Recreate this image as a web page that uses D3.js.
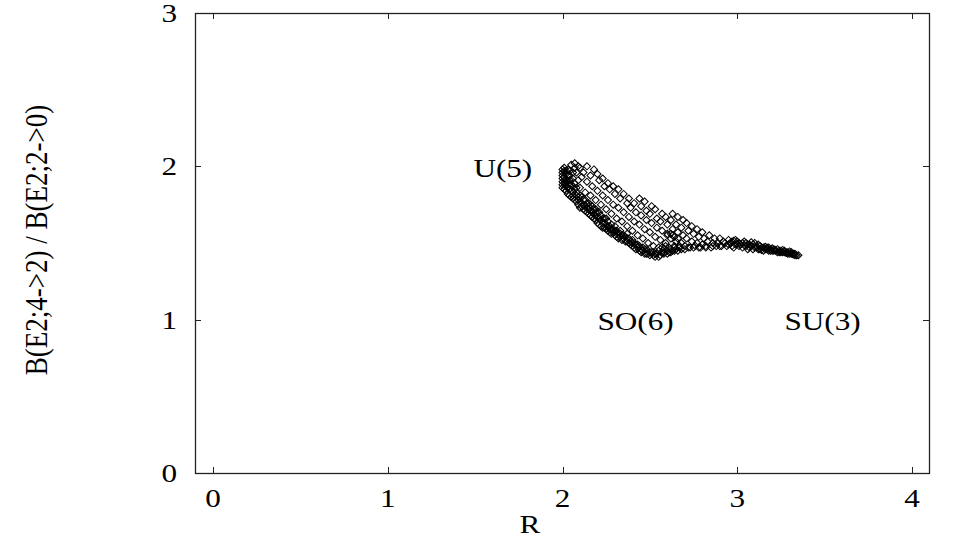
<!DOCTYPE html>
<html>
<head>
<meta charset="utf-8">
<script src="https://cdn.jsdelivr.net/npm/d3@7"></script>
<style>
  body { margin: 0; background: #fff; }
  text { font-family: "Liberation Serif", "Times New Roman", serif; font-size: 26px; fill: #000; }
</style>
</head>
<body>
<div id="chart"></div>
<script>
// axis ticks
let xTicks = [0, 1, 2, 3, 4];
let yTicks = [0, 1, 2, 3];

// points: [R, B(E2;4->2)/B(E2;2->0)]
let cornerPts = [
  [2.00,1.86],[2.00,1.88],[2.00,1.90],[2.00,1.92],[2.00,1.94],[2.00,1.96],[2.01,1.85],[2.01,1.89],
  [2.01,1.93],[2.01,1.97],[2.01,1.99],[2.02,1.84],[2.02,1.87],[2.02,1.91],[2.02,1.95],[2.03,1.82],
  [2.03,1.86],[2.03,1.90],[2.03,1.98],[2.04,1.81],[2.04,1.85],[2.04,1.94],[2.05,1.80],[2.05,1.84],
  [2.05,1.88],[2.05,2.01],[2.06,1.79],[2.06,1.83],[2.06,1.92],[2.07,2.02],[2.08,1.77],[2.08,1.81],
  [2.08,1.96],[2.00,1.98],[2.01,1.91],[2.02,1.89],[2.02,1.97],[2.03,1.94],[2.04,1.88],[2.04,1.91],
  [2.04,1.97],[2.05,1.91],[2.06,1.87],[2.06,1.96],[2.07,1.89],[2.07,1.99],[2.08,1.86],[2.09,1.91],
  [2.09,2.00]
];
let lowerBandPts = [
  [2.09,1.75],[2.09,1.78],[2.10,1.73],[2.10,1.77],[2.11,1.80],[2.12,1.72],[2.12,1.75],[2.13,1.71],
  [2.13,1.78],[2.14,1.70],[2.14,1.73],[2.15,1.69],[2.15,1.76],[2.16,1.68],[2.16,1.71],[2.17,1.67],
  [2.17,1.74],[2.18,1.66],[2.18,1.69],[2.19,1.65],[2.19,1.72],[2.20,1.63],[2.20,1.67],[2.21,1.62],
  [2.21,1.70],[2.22,1.61],[2.22,1.65],[2.23,1.60],[2.24,1.60],[2.24,1.63],[2.25,1.59],[2.25,1.66],
  [2.26,1.58],[2.27,1.57],[2.27,1.61],[2.28,1.56],[2.29,1.59],[2.30,1.55],[2.31,1.54],[2.31,1.58],
  [2.32,1.53],[2.33,1.56],[2.34,1.52],[2.35,1.55],[2.36,1.51],[2.37,1.53],[2.38,1.50],[2.39,1.49],
  [2.40,1.48],[2.40,1.52],[2.41,1.47],[2.42,1.46],[2.43,1.49],[2.44,1.45],[2.45,1.44],[2.46,1.47],
  [2.47,1.43],[2.48,1.43],[2.49,1.45],[2.50,1.42],[2.51,1.44],[2.52,1.42],[2.53,1.41],[2.54,1.43],
  [2.55,1.41],[2.56,1.42],[2.57,1.44]
];
let lowerInnerPts = [
  [2.06,1.81],[2.07,1.85],[2.07,1.78],[2.08,1.83],[2.09,1.80],[2.10,1.81],[2.11,1.76],[2.11,1.74],
  [2.12,1.78],[2.13,1.74],[2.14,1.76],[2.15,1.72],[2.15,1.74],[2.16,1.75],[2.17,1.70],[2.18,1.72],
  [2.19,1.68],[2.19,1.70],[2.20,1.70],[2.21,1.66],[2.22,1.68],[2.23,1.63],[2.23,1.66],[2.24,1.66],
  [2.25,1.62],[2.26,1.61],[2.26,1.64],[2.27,1.59],[2.28,1.62],[2.28,1.59],[2.29,1.57],[2.30,1.58],
  [2.30,1.61],[2.31,1.56],[2.32,1.56],[2.33,1.54],[2.33,1.58],[2.34,1.55],[2.35,1.53],[2.36,1.54],
  [2.37,1.51],[2.37,1.56],[2.38,1.53],[2.39,1.51],[2.40,1.50],[2.41,1.50],[2.42,1.49],[2.43,1.47],
  [2.44,1.48],[2.45,1.46],[2.46,1.45],[2.47,1.46],[2.48,1.46],[2.49,1.43],[2.50,1.44],[2.52,1.44],
  [2.53,1.43]
];
let scatterPts = [
  [2.10,1.86],[2.11,1.93],[2.10,1.99],[2.13,1.83],[2.14,1.90],[2.12,1.96],[2.14,2.00],
  [2.16,1.81],[2.17,1.87],[2.16,1.94],[2.18,1.98],[2.19,1.78],[2.20,1.84],[2.21,1.91],[2.20,1.95],
  [2.22,1.75],[2.23,1.81],[2.24,1.87],[2.23,1.92],[2.25,1.72],[2.26,1.78],[2.27,1.85],[2.26,1.89],
  [2.28,1.69],[2.29,1.75],[2.30,1.82],[2.29,1.87],[2.31,1.66],[2.32,1.73],[2.33,1.79],[2.32,1.85],
  [2.34,1.64],[2.35,1.70],[2.37,1.76],[2.35,1.82],[2.37,1.61],[2.38,1.67],[2.39,1.73],[2.38,1.79],
  [2.40,1.58],[2.41,1.64],[2.42,1.70],[2.41,1.76],[2.43,1.55],[2.44,1.62],[2.45,1.68],[2.45,1.74],
  [2.44,1.79],[2.46,1.53],[2.47,1.59],[2.48,1.65],[2.48,1.71],[2.47,1.77],[2.49,1.50],[2.50,1.57],
  [2.51,1.63],[2.50,1.69],[2.51,1.74],[2.52,1.48],[2.53,1.54],[2.54,1.60],[2.54,1.66],[2.53,1.72],
  [2.55,1.47],[2.56,1.52],[2.57,1.58],[2.56,1.64],[2.57,1.69],[2.58,1.46],[2.59,1.50],[2.60,1.56],
  [2.60,1.62],[2.59,1.67],[2.61,1.47],[2.62,1.53],[2.63,1.59],[2.62,1.65],[2.63,1.69],[2.64,1.48],
  [2.65,1.51],[2.66,1.57],[2.65,1.62],[2.66,1.67],[2.67,1.47],[2.68,1.50],[2.69,1.55],[2.68,1.60],
  [2.69,1.65],[2.70,1.48],[2.71,1.53],[2.72,1.58],[2.71,1.63],[2.73,1.47],[2.74,1.51],[2.75,1.56],
  [2.74,1.61],[2.76,1.48],[2.77,1.50],[2.78,1.54],[2.77,1.59],[2.79,1.47],[2.80,1.49],[2.81,1.53],
  [2.80,1.57],[2.82,1.48],[2.83,1.51],[2.84,1.55],[2.85,1.47],[2.86,1.50],[2.87,1.53],[2.88,1.48],
  [2.89,1.50],[2.90,1.53],[2.91,1.48],[2.92,1.51],[2.94,1.48],[2.93,1.50]
];
let so6Pts = [
  [2.55,1.45],[2.57,1.47],[2.58,1.43],[2.59,1.48],[2.60,1.45],[2.61,1.44],[2.62,1.46],[2.63,1.45],
  [2.64,1.47],[2.65,1.46],[2.67,1.48],[2.60,1.55],[2.62,1.56],[2.63,1.55],[2.64,1.54],[2.66,1.53],
  [2.58,1.44],[2.60,1.43],[2.62,1.44],[2.64,1.45],[2.66,1.45],[2.68,1.46],[2.70,1.46],[2.72,1.47],
  [2.75,1.47],[2.78,1.47],[2.82,1.47],[2.86,1.48],[2.90,1.48]
];
let tailPts = [
  [2.95,1.49],[2.95,1.52],[2.97,1.48],[2.97,1.51],[2.99,1.49],[2.99,1.52],[3.01,1.48],[3.01,1.50],
  [3.03,1.47],[3.03,1.50],[3.05,1.48],[3.05,1.50],[3.07,1.47],[3.07,1.49],[3.09,1.46],[3.09,1.49],
  [3.11,1.47],[3.11,1.48],[3.13,1.46],[3.13,1.48],[3.15,1.45],[3.15,1.47],[3.17,1.46],[3.17,1.47],
  [3.19,1.45],[3.19,1.46],[3.21,1.45],[3.21,1.46],[3.23,1.44],[3.23,1.46],[3.25,1.44],[3.25,1.45],
  [3.27,1.44],[3.27,1.45],[3.29,1.43],[3.29,1.44],[3.31,1.43],[3.31,1.44],[3.33,1.42],[3.33,1.43],
  [3.35,1.42],[2.96,1.50],[2.98,1.47],[3.00,1.51],[3.02,1.49],[3.04,1.51],[3.06,1.49],[3.08,1.48],
  [3.10,1.47],[3.10,1.50],[3.12,1.46],[3.14,1.47],[3.16,1.46],[3.18,1.47],[3.20,1.45],[3.22,1.45],
  [3.24,1.45],[3.26,1.44],[3.28,1.44],[3.30,1.43],[3.32,1.43],[3.34,1.42],[3.06,1.46],[3.12,1.49],
  [3.18,1.45],[3.24,1.44],[3.14,1.455],[3.16,1.475],[3.20,1.465],[3.22,1.455],[3.26,1.455],
  [3.28,1.435],[3.30,1.445],[3.32,1.425],[3.08,1.505],[3.04,1.485],[3.00,1.495],[2.98,1.515]
];

// text labels placed in data coordinates
let labels = [
  {text: "U(5)", r: 1.49, b: 1.93},
  {text: "SO(6)", r: 2.20, b: 0.93},
  {text: "SU(3)", r: 3.27, b: 0.93}
];

let W = 977, H = 537;
let frame = {left: 195, right: 929, top: 13, bottom: 473};
let sx = 1.2; // horizontal stretch of the original lettering

let svg = d3.select("#chart")
  .append("svg")
    .attr("width", W)
    .attr("height", H);

let x = d3.scaleLinear().domain([0, 4]).range([213, 912]);
let y = d3.scaleLinear().domain([0, 3]).range([frame.bottom, frame.top]);

// ticks on all four sides, pointing inward
let tickLen = 6;
let ticks = svg.append("g").attr("stroke", "#222").attr("stroke-width", 1);
xTicks.forEach(function(t) {
  let px = Math.round(x(t)) + 0.5;
  ticks.append("line").attr("x1", px).attr("x2", px).attr("y1", frame.bottom).attr("y2", frame.bottom - tickLen);
  ticks.append("line").attr("x1", px).attr("x2", px).attr("y1", frame.top).attr("y2", frame.top + tickLen);
});
yTicks.forEach(function(t) {
  let py = Math.round(y(t)) + 0.5;
  ticks.append("line").attr("x1", frame.left).attr("x2", frame.left + tickLen).attr("y1", py).attr("y2", py);
  ticks.append("line").attr("x1", frame.right).attr("x2", frame.right - tickLen).attr("y1", py).attr("y2", py);
});

// frame
svg.append("rect")
  .attr("x", frame.left + 0.5)
  .attr("y", frame.top + 0.5)
  .attr("width", frame.right - frame.left)
  .attr("height", frame.bottom - frame.top)
  .attr("fill", "none")
  .attr("stroke", "#222")
  .attr("stroke-width", 1.3);

// tick labels
svg.append("g").selectAll("text")
  .data(xTicks)
  .enter().append("text")
    .attr("text-anchor", "middle")
    .attr("transform", function(d) { return "translate(" + x(d) + "," + (frame.bottom + 34) + ") scale(" + sx + ",1)"; })
    .text(function(d) { return d; });

svg.append("g").selectAll("text")
  .data(yTicks)
  .enter().append("text")
    .attr("text-anchor", "end")
    .attr("transform", function(d) { return "translate(177," + (y(d) + 9) + ") scale(" + sx + ",1)"; })
    .text(function(d) { return d; });

// axis titles
svg.append("text")
  .attr("text-anchor", "middle")
  .attr("transform", "translate(530,533) scale(" + sx + ",1)")
  .text("R");

svg.append("text")
  .attr("text-anchor", "middle")
  .attr("transform", "translate(47,240) rotate(-90) scale(1.04," + sx + ")")
  .text("B(E2;4->2) / B(E2;2->0)");

// the points, as open diamonds
let allPts = cornerPts.concat(lowerBandPts, lowerInnerPts, scatterPts, so6Pts, tailPts);
let diamond = d3.symbol().type(d3.symbolSquare).size(25);

svg.append("g")
  .selectAll("path")
  .data(allPts)
  .enter().append("path")
    .attr("d", diamond)
    .attr("transform", function(d) { return "translate(" + x(d[0]) + "," + y(d[1]) + ") rotate(45)"; })
    .attr("fill", "none")
    .attr("stroke", "#000")
    .attr("stroke-width", 1);

// limit labels
svg.append("g").selectAll("text")
  .data(labels)
  .enter().append("text")
    .attr("text-anchor", "start")
    .attr("transform", function(d) { return "translate(" + x(d.r) + "," + y(d.b) + ") scale(" + sx + ",1)"; })
    .text(function(d) { return d.text; });
</script>
</body>
</html>
